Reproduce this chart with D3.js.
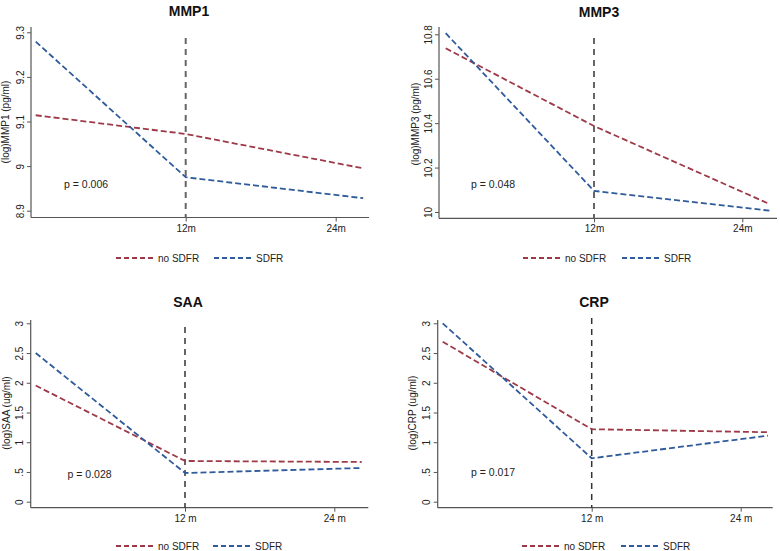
<!DOCTYPE html>
<html><head><meta charset="utf-8">
<script src="https://cdn.jsdelivr.net/npm/d3@7/dist/d3.min.js"></script>
<style>body{margin:0;background:#fff}svg{display:block;font-family:"Liberation Sans",Arial,sans-serif}</style>
</head><body>
<svg id="c" width="780" height="551"></svg>
<script>
// ---- data ----
const timePoints = [0, 12, 26.2];
const xTickValues = [12, 24];
const seriesNames = ["no SDFR", "SDFR"];
const panelTitles = ["MMP1", "MMP3", "SAA", "CRP"];
const yLabels = ["(log)MMP1 (pg/ml)", "(log)MMP3 (pg/ml)", "(log)SAA (ug/ml)", "(log)CRP (ug/ml)"];
const pValues = ["p = 0.006", "p = 0.048", "p = 0.028", "p = 0.017"];
const xTickLabelsTop = ["12m", "24m"];
const xTickLabelsBottom = ["12 m", "24 m"];
const mmp1Ticks = [8.9, 9, 9.1, 9.2, 9.3];
const mmp1TickLabels = ["8.9", "9", "9.1", "9.2", "9.3"];
const mmp3Ticks = [10, 10.2, 10.4, 10.6, 10.8];
const mmp3TickLabels = ["10", "10.2", "10.4", "10.6", "10.8"];
const crpTicks = [0, 0.5, 1, 1.5, 2, 2.5, 3];
const crpTickLabels = ["0", ".5", "1", "1.5", "2", "2.5", "3"];
const mmp1NoSDFR = [9.114, 9.072, 8.995];
const mmp1SDFR = [9.279, 8.975, 8.928];
const mmp3NoSDFR = [10.737, 10.387, 10.036];
const mmp3SDFR = [10.805, 10.095, 10.006];
const saaNoSDFR = [1.953, 0.685, 0.668];
const saaSDFR = [2.50, 0.483, 0.567];
const crpNoSDFR = [2.69, 1.219, 1.168];
const crpSDFR = [3.0, 0.73, 1.111];

// ---- layout ----
const colors = ["#9e3a48", "#2f5b9b"];
const panels = [
  {title: panelTitles[0], ylab: yLabels[0], p: pValues[0], ticks: mmp1Ticks, tl: mmp1TickLabels, xl: xTickLabelsTop,
   s: [mmp1NoSDFR, mmp1SDFR], ax: 31, right: 369, x0: 35.7, x12: 185.7, ylo: 210.7, yhi: 32.3, bottom: 217.5, top: 27,
   vtop: 38, titleX: 189, titleY: 16, tickY: 231.5, pX: 64, pY: 188, legY: 258, legX: [116, 214], labX: 5, labY: 122, vcol: "#666", vw: 2},
  {title: panelTitles[1], ylab: yLabels[1], p: pValues[1], ticks: mmp3Ticks, tl: mmp3TickLabels, xl: xTickLabelsTop,
   s: [mmp3NoSDFR, mmp3SDFR], ax: 439, right: 777, x0: 445.7, x12: 594, ylo: 212, yhi: 34.3, bottom: 218.3, top: 27,
   vtop: 38, titleX: 599, titleY: 16.5, tickY: 231.5, pX: 471, pY: 188, legY: 258, legX: [523, 622], labX: 415, labY: 124, vcol: "#666", vw: 2},
  {title: panelTitles[2], ylab: yLabels[2], p: pValues[2], ticks: crpTicks, tl: crpTickLabels, xl: xTickLabelsBottom,
   s: [saaNoSDFR, saaSDFR], ax: 30.7, right: 368.3, x0: 35.7, x12: 185, ylo: 501.7, yhi: 323.3, bottom: 507.7, top: 320,
   vtop: 327, titleX: 188, titleY: 307, tickY: 522, pX: 67.5, pY: 478, legY: 546, legX: [116, 213], labX: 6, labY: 413, vcol: "#333", vw: 1.5},
  {title: panelTitles[3], ylab: yLabels[3], p: pValues[3], ticks: crpTicks, tl: crpTickLabels, xl: xTickLabelsBottom,
   s: [crpNoSDFR, crpSDFR], ax: 437.7, right: 772.7, x0: 442.7, x12: 591.7, ylo: 501.7, yhi: 323.3, bottom: 507.7, top: 320,
   vtop: 318, titleX: 594, titleY: 307, tickY: 522, pX: 471, pY: 475.5, legY: 546, legX: [522, 621], labX: 412, labY: 413, vcol: "#333", vw: 1.5}
];

const svg = d3.select("#c");
const axisCol = "#555";

panels.forEach(P => {
  const g = svg.append("g");
  const x = d3.scaleLinear().domain([0, 12]).range([P.x0, P.x12]);
  const y = d3.scaleLinear().domain([P.ticks[0], P.ticks[P.ticks.length - 1]]).range([P.ylo, P.yhi]);

  // title
  g.append("text").attr("x", P.titleX).attr("y", P.titleY).attr("text-anchor", "middle")
    .attr("font-size", 14).attr("font-weight", "bold").attr("fill", "#111").text(P.title);

  // y axis
  const yAxis = d3.axisLeft(y).tickValues(P.ticks).tickSize(4).tickPadding(3)
    .tickFormat((d, i) => P.tl[i]);
  const ya = g.append("g").attr("transform", `translate(${P.ax},0)`).call(yAxis);
  ya.select(".domain").remove();
  ya.selectAll(".tick line").attr("stroke", axisCol);
  ya.selectAll(".tick text").attr("font-size", 10).attr("fill", "#222")
    .attr("text-anchor", "middle").attr("dy", null)
    .attr("transform", function(d) { return `translate(${-11},0) rotate(-90)`; })
    .attr("x", 0).attr("y", 0).attr("dy", "0.35em");
  g.append("line").attr("x1", P.ax).attr("x2", P.ax).attr("y1", P.top).attr("y2", P.bottom)
    .attr("stroke", axisCol).attr("stroke-width", 1.2);

  // x axis
  const xAxis = d3.axisBottom(x).tickValues(xTickValues).tickSize(4).tickFormat((d, i) => P.xl[i]);
  const xa = g.append("g").attr("transform", `translate(0,${P.bottom})`).call(xAxis);
  xa.select(".domain").remove();
  xa.selectAll(".tick line").attr("stroke", axisCol);
  xa.selectAll(".tick text").attr("font-size", 10).attr("fill", "#222").attr("y", 0).attr("dy", 0)
    .attr("transform", `translate(0,${P.tickY - P.bottom})`);
  g.append("line").attr("x1", P.ax).attr("x2", P.right).attr("y1", P.bottom).attr("y2", P.bottom)
    .attr("stroke", axisCol).attr("stroke-width", 1.2);

  // y label
  g.append("text").attr("transform", `translate(${P.labX},${P.labY}) rotate(-90)`)
    .attr("text-anchor", "middle").attr("dy", "0.35em").attr("font-size", 10).attr("fill", "#222").text(P.ylab);

  // vertical dashed line at 12
  g.append("line").attr("x1", x(12)).attr("x2", x(12)).attr("y1", P.vtop).attr("y2", P.bottom)
    .attr("stroke", P.vcol).attr("stroke-width", P.vw).attr("stroke-dasharray", "6,5");

  // series
  const line = d3.line().x((d, i) => x(timePoints[i])).y(d => y(d));
  P.s.forEach((vals, k) => {
    g.append("path").datum(vals).attr("d", line).attr("fill", "none")
      .attr("stroke", colors[k]).attr("stroke-width", 1.8).attr("stroke-dasharray", "6,3");
  });

  // p value
  g.append("text").attr("x", P.pX).attr("y", P.pY).attr("font-size", 10.5).attr("fill", "#222").text(P.p);

  // legend
  seriesNames.forEach((nm, k) => {
    const lx = P.legX[k];
    g.append("line").attr("x1", lx).attr("x2", lx + 37).attr("y1", P.legY).attr("y2", P.legY)
      .attr("stroke", colors[k]).attr("stroke-width", 1.8).attr("stroke-dasharray", "5,3");
    g.append("text").attr("x", lx + 42).attr("y", P.legY).attr("dy", "0.35em")
      .attr("font-size", 10).attr("fill", "#222").text(nm);
  });
});
</script>
</body></html>
